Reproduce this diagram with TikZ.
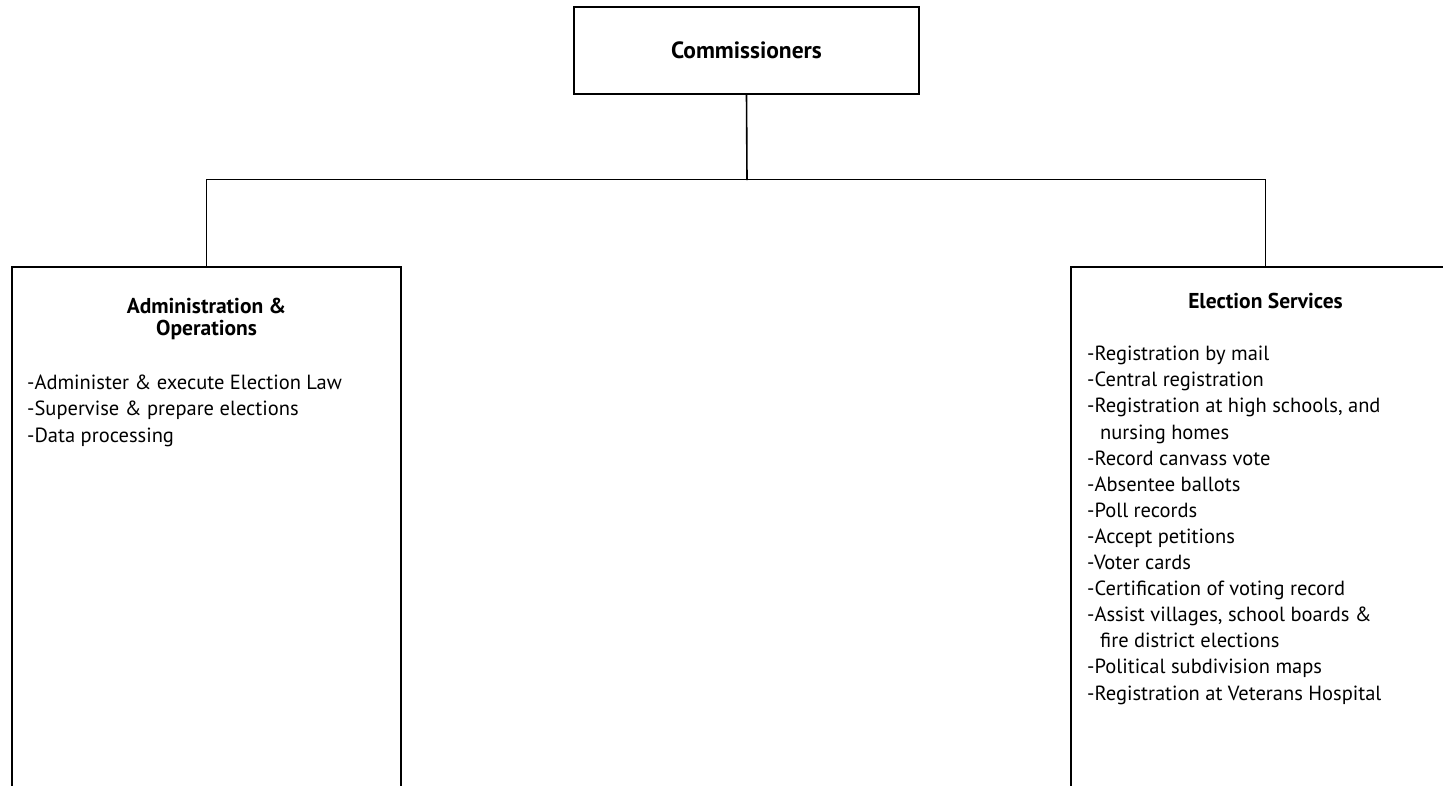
\documentclass[tikz,border=0pt]{standalone}
\usepackage{fontspec}
\setmainfont{PT Sans}
\begin{document}
\begin{tikzpicture}[x=1pt,y=-1pt,
  box/.style={draw=black,line width=1.4pt,fill=white,inner sep=0pt,minimum width=389pt,minimum height=633pt},
  topbox/.style={draw=black,line width=1.4pt,inner sep=0pt,minimum width=345pt,minimum height=87pt},
  title/.style={font=\fontsize{21.5}{22}\selectfont\bfseries,align=center,inner sep=0pt},
  list/.style={font=\fontsize{20.5}{26.1}\selectfont,align=left,inner sep=0pt,anchor=north west},
  link/.style={draw=black,line width=1.6pt}]
\useasboundingbox (0,0) rectangle (1443,785);
\clip (0,0) rectangle (1443,785);
\node[topbox] (comm) at (746.5,50.5) {};
\node[title,font=\fontsize{23.5}{24}\selectfont\bfseries] (commt) at (746.5,50) {Commissioners};
\node[box] (left) at (206.5,583.5) {};
\node[box] (right) at (1265.5,583.5) {};
\coordinate (j) at (747,180);
\draw[link] (comm.south) -- (j);
\draw[link] (left.north) -- ++(0,-87) -| (right.north);
\node[title] (leftt) at (206.5,319) {Administration \&\\Operations};
\node[title] (rightt) at (1265.5,301) {Election Services};
\node[list] (leftl) at (27,375) {-Administer \& execute Election Law\\-Supervise \& prepare elections\\-Data processing};
\node[list] (rightl) at (1087,346) {-Registration by mail\\-Central registration\\-Registration at high schools, and\\\hspace*{13pt}nursing homes\\-Record canvass vote\\-Absentee ballots\\-Poll records\\-Accept petitions\\-Voter cards\\-Certification of voting record\\-Assist villages, school boards \&\\\hspace*{13pt}fire district elections\\-Political subdivision maps\\-Registration at Veterans Hospital};
\end{tikzpicture}
\end{document}
